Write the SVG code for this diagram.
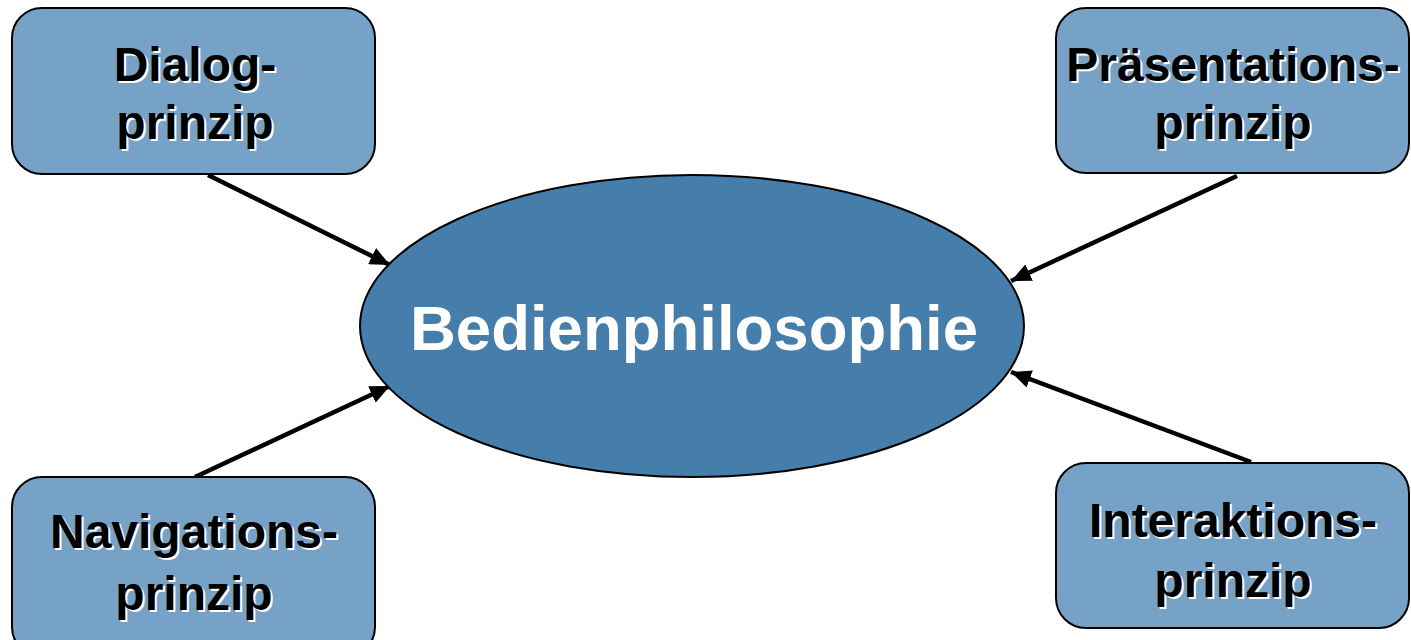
<svg xmlns="http://www.w3.org/2000/svg" width="1411" height="640" viewBox="0 0 1411 640">
<style>
.box{fill:#77a2c7;stroke:#000;stroke-width:2}
.lbl{font-family:"Liberation Sans",Arial,sans-serif;font-weight:bold;font-size:48px;text-anchor:middle}
.sh{fill:#fff}
.fg{fill:#000}
.conn{stroke:#000;stroke-width:4.5;fill:none;marker-end:url(#ah)}
</style>
<defs>
<marker id="ah" markerUnits="userSpaceOnUse" markerWidth="22" markerHeight="18" refX="20" refY="9" orient="auto">
<path d="M0,0 L20,9 L0,18 Z" fill="#000"/>
</marker>
</defs>
<rect width="1411" height="640" fill="#fff"/>
<g id="connectors">
<line class="conn" x1="208" y1="175" x2="390" y2="265"/>
<line class="conn" x1="1237" y1="176" x2="1011" y2="281"/>
<line class="conn" x1="195" y1="477" x2="390" y2="386"/>
<line class="conn" x1="1251" y1="462" x2="1011" y2="372"/>
</g>
<g id="center">
<ellipse cx="692" cy="326" rx="332" ry="151" fill="#457dab" stroke="#000" stroke-width="2"/>
<text x="694" y="350" font-family="'Liberation Sans',Arial,sans-serif" font-weight="bold" font-size="63.5" fill="#fff" text-anchor="middle">Bedienphilosophie</text>
</g>
<g id="dialog">
<rect class="box" x="12" y="8" width="363" height="166" rx="30"/>
<text class="lbl sh" x="197" y="83">Dialog-</text>
<text class="lbl fg" x="195" y="81">Dialog-</text>
<text class="lbl sh" x="197" y="141">prinzip</text>
<text class="lbl fg" x="195" y="139">prinzip</text>
</g>
<g id="praesentation">
<rect class="box" x="1056" y="8" width="353" height="165" rx="30"/>
<text class="lbl sh" x="1235" y="83">Präsentations-</text>
<text class="lbl fg" x="1233" y="81">Präsentations-</text>
<text class="lbl sh" x="1235" y="141">prinzip</text>
<text class="lbl fg" x="1233" y="139">prinzip</text>
</g>
<g id="navigation">
<rect class="box" x="12" y="477" width="363" height="180" rx="30"/>
<text class="lbl sh" x="196" y="550">Navigations-</text>
<text class="lbl fg" x="194" y="548">Navigations-</text>
<text class="lbl sh" x="196" y="612">prinzip</text>
<text class="lbl fg" x="194" y="610">prinzip</text>
</g>
<g id="interaktion">
<rect class="box" x="1056" y="463" width="353" height="165" rx="30"/>
<text class="lbl sh" x="1235" y="539">Interaktions-</text>
<text class="lbl fg" x="1233" y="537">Interaktions-</text>
<text class="lbl sh" x="1235" y="599">prinzip</text>
<text class="lbl fg" x="1233" y="597">prinzip</text>
</g>
</svg>
